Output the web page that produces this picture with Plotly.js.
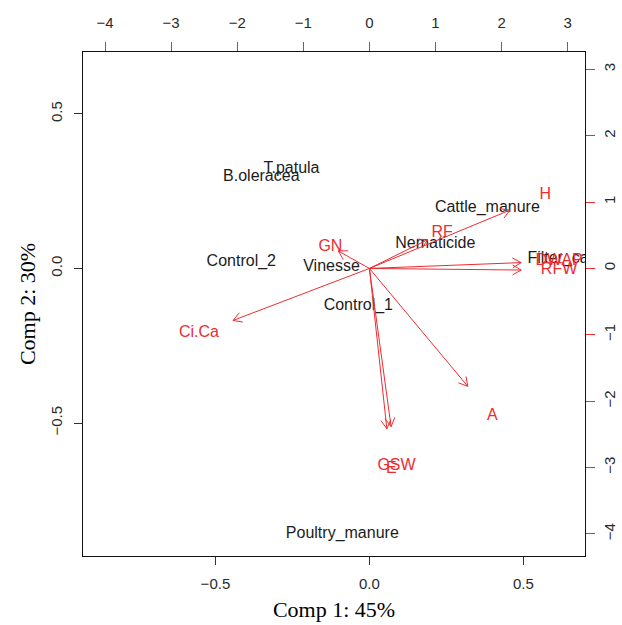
<!DOCTYPE html>
<html>
<head>
<meta charset="utf-8">
<script src="https://cdn.plot.ly/plotly-3.0.1.min.js"></script>
<style>html,body{margin:0;padding:0;background:#fff;}#chart{width:622px;height:625px;}</style>
</head>
<body>
<div id="chart"></div>
<script>
// Observation scores (Comp 1, Comp 2) - bottom/left axes
var obsNames = ["T.patula", "B.oleracea", "Cattle_manure", "Nematicide", "Filter_cake", "Control_2", "Vinesse", "Control_1", "Poultry_manure"];
var obsX = [-0.253, -0.351, 0.383, 0.214, 0.640, -0.416, -0.123, -0.036, -0.088];
var obsY = [0.323, 0.297, 0.195, 0.080, 0.032, 0.022, 0.006, -0.121, -0.859];

// Variable loadings (label positions) - top/right axes
var varNames = ["H", "RF", "GN", "Ci.Ca", "DWAP", "RFW", "A", "GSW", "E"];
var varX = [2.66, 1.10, -0.59, -2.58, 2.87, 2.87, 1.86, 0.41, 0.33];
var varY = [1.10, 0.54, 0.33, -0.98, 0.11, -0.03, -2.22, -2.98, -3.02];

// Axis tick values
var scoreTicks = [-0.5, 0, 0.5];
var scoreTickText = ["\u22120.5", "0.0", "0.5"];
var loadTicks = [-4, -3, -2, -1, 0, 1, 2, 3];

var scoreRange = [-0.93, 0.70];
var ratio = 4.66;
var loadRange = [scoreRange[0] * ratio, scoreRange[1] * ratio];

var red = "#ee2b2f";
var ink = "#1c1c1c";
var sans = "Liberation Sans, Arial, sans-serif";

var traces = [];

// arrows: from origin to 0.8 * loading, with open heads (R style)
var headLen = 0.15, headAng = Math.PI / 6;
for (var i = 0; i < varNames.length; i++) {
  var tx = varX[i] * 0.8, ty = varY[i] * 0.8;
  var ang = Math.atan2(ty, tx);
  var h1x = tx - headLen * Math.cos(ang - headAng), h1y = ty - headLen * Math.sin(ang - headAng);
  var h2x = tx - headLen * Math.cos(ang + headAng), h2y = ty - headLen * Math.sin(ang + headAng);
  traces.push({
    type: "scatter", mode: "lines", xaxis: "x2", yaxis: "y2",
    x: [0, tx, null, h1x, tx, h2x],
    y: [0, ty, null, h1y, ty, h2y],
    line: {color: red, width: 1}, hoverinfo: "skip"
  });
}

traces.push({
  type: "scatter", mode: "text", xaxis: "x2", yaxis: "y2",
  x: varX, y: varY, text: varNames, textposition: "middle center",
  textfont: {family: sans, size: 16, color: red}, hoverinfo: "skip", cliponaxis: true
});

traces.push({
  type: "scatter", mode: "text", xaxis: "x", yaxis: "y",
  x: obsX, y: obsY, text: obsNames, textposition: "middle center",
  textfont: {family: sans, size: 16, color: ink}, hoverinfo: "skip", cliponaxis: true
});

var tickFont = {family: sans, size: 15, color: "#2a2a2a"};

var layout = {
  width: 622, height: 625,
  margin: {l: 83, r: 37, t: 52, b: 69, pad: 0},
  paper_bgcolor: "#fff", plot_bgcolor: "#fff",
  showlegend: false,
  xaxis: {
    range: scoreRange, tickmode: "array", tickvals: scoreTicks, ticktext: scoreTickText,
    ticks: "outside", ticklen: 8, tickcolor: "#333", ticklabelstandoff: 6,
    showline: true, mirror: true, linecolor: "#111", linewidth: 1,
    showgrid: false, zeroline: false, tickfont: tickFont,
    title: {text: "Comp 1: 45%", font: {family: "Liberation Serif, Times New Roman, serif", size: 22, color: "#000"}, standoff: 10}
  },
  yaxis: {
    range: scoreRange, tickmode: "array", tickvals: scoreTicks, ticktext: scoreTickText,
    ticks: "outside", ticklen: 8, tickcolor: "#333", tickangle: -90, ticklabelstandoff: 6,
    showline: true, mirror: true, linecolor: "#111", linewidth: 1,
    showgrid: false, zeroline: false, tickfont: tickFont,
    title: {text: "Comp 2: 30%", font: {family: "Liberation Serif, Times New Roman, serif", size: 22, color: "#000"}, standoff: 6}
  },
  xaxis2: {
    overlaying: "x", side: "top", anchor: "y", range: loadRange,
    tickmode: "array", tickvals: loadTicks,
    ticks: "outside", ticklen: 9, tickcolor: red, ticklabelstandoff: 8,
    showline: false, showgrid: false, zeroline: false, tickfont: tickFont
  },
  yaxis2: {
    overlaying: "y", side: "right", anchor: "x", range: loadRange,
    tickmode: "array", tickvals: loadTicks, tickangle: -90,
    ticks: "outside", ticklen: 9, tickcolor: red, ticklabelstandoff: 2,
    showline: false, showgrid: false, zeroline: false, tickfont: tickFont
  }
};

Plotly.newPlot("chart", traces, layout, {staticPlot: true, displayModeBar: false});
</script>
</body>
</html>
